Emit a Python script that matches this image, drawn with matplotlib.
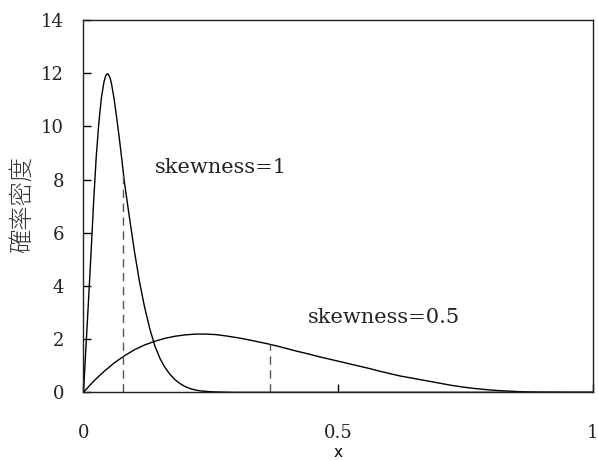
import matplotlib
matplotlib.use('Agg')
import matplotlib.pyplot as plt

# values
x1 = [0, 0.005, 0.01, 0.015, 0.02, 0.025, 0.03, 0.035, 0.04, 0.0425, 0.045, 0.0475,
      0.05, 0.0525, 0.055, 0.06, 0.065, 0.07, 0.075, 0.08, 0.09, 0.10, 0.11, 0.12,
      0.13, 0.14, 0.15, 0.16, 0.17, 0.18, 0.19, 0.20, 0.21, 0.22, 0.23, 0.25,
      0.28, 0.30, 0.5, 1.0]
y1 = [0, 1.75, 3.5, 5.3, 7.2, 8.85, 10.1, 11.05, 11.65, 11.84, 11.95, 11.98,
      11.92, 11.8, 11.6, 11.05, 10.35, 9.6, 8.8, 7.95, 6.6, 5.3, 4.15, 3.2,
      2.4, 1.75, 1.28, 0.93, 0.67, 0.47, 0.32, 0.21, 0.135, 0.085, 0.052, 0.02,
      0.005, 0.0, 0.0, 0.0]

x2 = [0, 0.02, 0.04, 0.06, 0.08, 0.10, 0.12, 0.14, 0.16, 0.18, 0.20, 0.22, 0.24,
      0.26, 0.28, 0.30, 0.32, 0.34, 0.36, 0.38, 0.40, 0.42, 0.44, 0.46, 0.48,
      0.50, 0.52, 0.54, 0.56, 0.58, 0.60, 0.62, 0.64, 0.66, 0.68, 0.70, 0.72,
      0.74, 0.76, 0.78, 0.80, 0.82, 0.84, 0.86, 0.88, 0.90, 0.95, 1.0]
y2 = [0, 0.42, 0.78, 1.10, 1.37, 1.60, 1.78, 1.92, 2.03, 2.11, 2.16, 2.19, 2.19,
      2.17, 2.12, 2.06, 1.99, 1.91, 1.83, 1.74, 1.64, 1.54, 1.45, 1.35, 1.26,
      1.17, 1.08, 0.99, 0.90, 0.80, 0.71, 0.62, 0.55, 0.48, 0.41, 0.34, 0.27,
      0.21, 0.16, 0.12, 0.085, 0.06, 0.04, 0.02, 0.01, 0.005, 0.0, 0.0]

mean_x = [0.077, 0.366]
mean_y = [8.36, 1.82]

labels = ['skewness=1', 'skewness=0.5']
label_x = [0.140, 0.441]
label_y = [8.25, 2.61]

xticks = [0, 0.5, 1]
xticklabels = ['0', '0.5', '1']
yticks = [0, 2, 4, 6, 8, 10, 12, 14]

fig = plt.figure(figsize=(5.98, 4.61), dpi=100)
ax = fig.add_axes([0.1396, 0.149, 0.852, 0.8076])

ax.plot(x1, y1, color='black', lw=1.0)
ax.plot(x2, y2, color='black', lw=1.0)
ax.vlines(mean_x, 0, mean_y, colors='#555555', linestyles=(0, (6, 4)), lw=1.0)

for t, tx, ty in zip(labels, label_x, label_y):
    ax.text(tx, ty, t, fontsize=15, family='DejaVu Serif', color='#222222',
            ha='left', va='baseline')

ax.set_xlim(0, 1)
ax.set_ylim(0, 14)
ax.set_xticks(xticks)
ax.set_xticklabels(xticklabels, family='DejaVu Serif', fontsize=13, color='#222222')
ax.set_yticks(yticks)
ax.set_yticklabels([str(v) for v in yticks], family='DejaVu Serif', fontsize=13, color='#222222')
ax.tick_params(axis='x', direction='in', length=6, width=1, pad=23)
ax.tick_params(axis='y', direction='in', length=6, width=1, pad=14)
for s in ax.spines.values():
    s.set_linewidth(1.0)
    s.set_color('#222222')

ax.set_xlabel('x', fontsize=11, family='DejaVu Sans', labelpad=2)
ax.set_ylabel('確率密度', fontsize=17.5, family=['Noto Sans CJK JP', 'DejaVu Sans'],
              fontweight='light', color='#333333')
ax.yaxis.set_label_coords(-0.095, 0.505)

fig.savefig('out.png', dpi=100)
